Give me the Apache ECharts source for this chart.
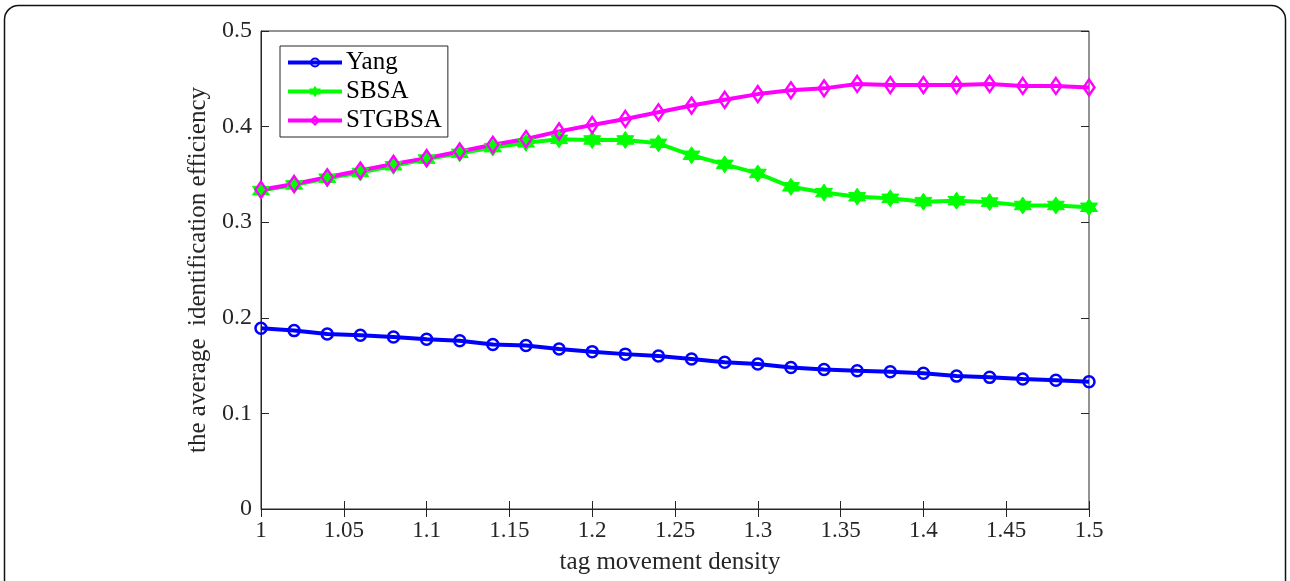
<!DOCTYPE html>
<html><head><meta charset="utf-8">
<script src="https://cdn.jsdelivr.net/npm/echarts@6/dist/echarts.min.js"></script>
<style>html,body{margin:0;padding:0;background:#fff}#c{width:1290px;height:581px}</style>
</head><body><div id="c"></div>
<script>
const xValues = [1.00,1.02,1.04,1.06,1.08,1.10,1.12,1.14,1.16,1.18,1.20,1.22,1.24,1.26,1.28,1.30,1.32,1.34,1.36,1.38,1.40,1.42,1.44,1.46,1.48,1.50];
const yang = [0.189,0.1866,0.183,0.1817,0.180,0.1775,0.176,0.172,0.171,0.1674,0.1646,0.162,0.160,0.157,0.1534,0.1517,0.148,0.146,0.1447,0.1436,0.142,0.139,0.1377,0.136,0.1346,0.133];
const sbsa = [0.333,0.339,0.346,0.352,0.359,0.366,0.372,0.378,0.383,0.3867,0.386,0.386,0.3825,0.370,0.3605,0.351,0.337,0.331,0.3267,0.325,0.3215,0.3225,0.321,0.3175,0.3175,0.3156];
const stgbsa = [0.334,0.340,0.347,0.354,0.361,0.367,0.374,0.381,0.387,0.395,0.4017,0.408,0.415,0.422,0.428,0.434,0.438,0.440,0.4446,0.4435,0.4435,0.4435,0.4446,0.4425,0.4425,0.441];
const seriesNames = ['Yang','SBSA','STGBSA'];
const xTickLabels = ['1','1.05','1.1','1.15','1.2','1.25','1.3','1.35','1.4','1.45','1.5'];
const yTickLabels = ['0','0.1','0.2','0.3','0.4','0.5'];

const pairs = arr => xValues.map((x,i)=>[x,arr[i]]);
const hexagram = 'path://M0 -10 L2.887 -5 L8.66 -5 L5.77 0 L8.66 5 L2.887 5 L0 10 L-2.887 5 L-8.66 5 L-5.77 0 L-8.66 -5 L-2.887 -5 Z';
const font = '"Liberation Serif","Times New Roman",serif';
const axisCol = '#262626';

const chart = echarts.init(document.getElementById('c'), null, {renderer:'canvas'});
const gridPos = {left:261, right:201, top:31, bottom:72};
const fmtX = v => { const s = xTickLabels.find(t => Math.abs(parseFloat(t)-v)<1e-6); return s===undefined?'':s; };
const fmtY = v => { const s = yTickLabels.find(t => Math.abs(parseFloat(t)-v)<1e-6); return s===undefined?'':s; };
chart.setOption({
  animation:false,
  backgroundColor:'#fff',
  graphic:[{type:'rect', shape:{x:4.5,y:5.5,width:1281,height:620,r:14}, style:{fill:'none',stroke:'#111',lineWidth:1.5}, z:-10}],
  grid:{...gridPos, show:true, borderColor:axisCol, borderWidth:1},
  legend:{
    left:280, top:46, orient:'vertical',
    data:seriesNames,
    backgroundColor:'#fff', borderColor:axisCol, borderWidth:1,
    padding:[4,6,4,6], itemGap:4, itemWidth:54, itemHeight:10,
    lineStyle:{width:4},
    textStyle:{fontFamily:font, fontSize:25, color:'#000', padding:[0,0,0,-1]}
  },
  xAxis:[{
    type:'value', min:1, max:1.5, interval:0.05,
    name:'tag movement density', nameLocation:'middle', nameGap:41,
    nameTextStyle:{fontFamily:font, fontSize:25, color:axisCol, padding:[0,10,0,0]},
    axisLine:{show:true, lineStyle:{color:axisCol,width:1}},
    axisTick:{show:true, inside:true, length:8, lineStyle:{color:axisCol}},
    axisLabel:{fontFamily:font, fontSize:23, color:axisCol, margin:10, formatter:fmtX},
    splitLine:{show:false}
  },{
    type:'value', position:'top', min:1, max:1.5, interval:0.05,
    axisLine:{show:false}, axisTick:{show:true, inside:true, length:8, lineStyle:{color:axisCol}},
    axisLabel:{show:false}, splitLine:{show:false}
  }],
  yAxis:[{
    type:'value', min:0, max:0.5, interval:0.1,
    name:'the average  identification efficiency', nameLocation:'middle', nameGap:38,
    nameTextStyle:{fontFamily:font, fontSize:25, color:axisCol},
    axisLine:{show:true, lineStyle:{color:axisCol,width:1}},
    axisTick:{show:true, inside:true, length:8, lineStyle:{color:axisCol}},
    axisLabel:{fontFamily:font, fontSize:24, color:axisCol, margin:9, formatter:fmtY},
    splitLine:{show:false}
  },{
    type:'value', position:'right', min:0, max:0.5, interval:0.1,
    axisLine:{show:false}, axisTick:{show:true, inside:true, length:8, lineStyle:{color:axisCol}},
    axisLabel:{show:false}, splitLine:{show:false}
  }],
  series:[
    {name:seriesNames[0], type:'line', data:pairs(yang), symbol:'circle', symbolSize:11,
     lineStyle:{color:'#0000ff', width:4}, itemStyle:{color:'rgba(255,255,255,0)', borderColor:'#0000ff', borderWidth:2.5}},
    {name:seriesNames[1], type:'line', data:pairs(sbsa), symbol:hexagram, symbolSize:17,
     lineStyle:{color:'#00ff00', width:4}, itemStyle:{color:'#00ff00', borderColor:'#00ff00', borderWidth:1}},
    {name:seriesNames[2], type:'line', data:pairs(stgbsa), symbol:'diamond', symbolSize:[11,16],
     lineStyle:{color:'#ff00ff', width:4}, itemStyle:{color:'rgba(255,255,255,0)', borderColor:'#ff00ff', borderWidth:2.5}}
  ]
});
</script></body></html>
